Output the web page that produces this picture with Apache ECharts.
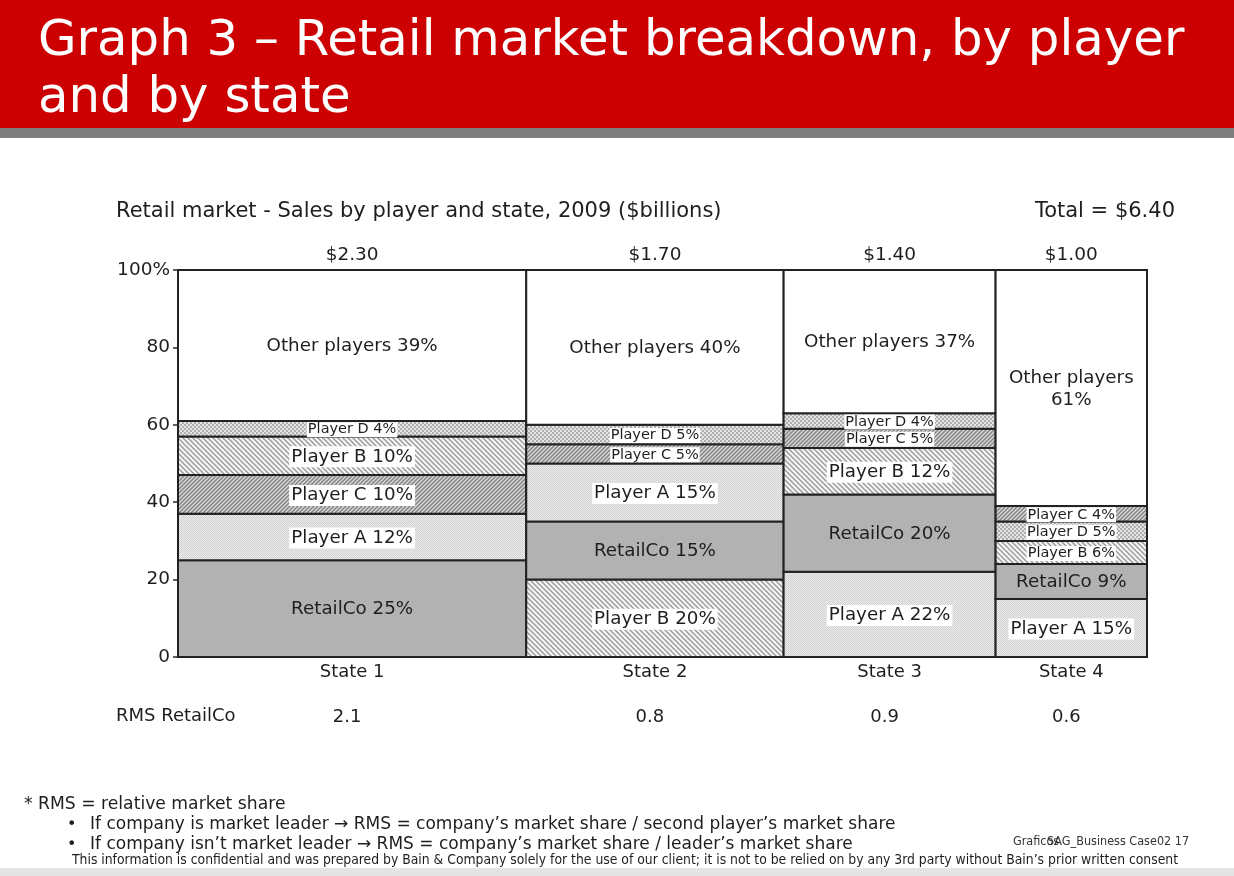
<!DOCTYPE html>
<html><head><meta charset="utf-8">
<script src="https://cdn.jsdelivr.net/npm/echarts@6/dist/echarts.min.js"></script>
<style>html,body{margin:0;padding:0;background:#fff}#c{width:1234px;height:876px}</style>
</head><body><div id="c"></div>
<script>
// ---------------- data ----------------
const states = ['State 1', 'State 2', 'State 3', 'State 4'];
const stateTotals = [2.30, 1.70, 1.40, 1.00];          // $ billions (column widths)
const rmsRetailCo = [2.1, 0.8, 0.9, 0.6];
const players = ['RetailCo', 'Player A', 'Player B', 'Player C', 'Player D', 'Other players'];
const retailCo = [25, 15, 20, 9];
const playerA = [12, 15, 22, 15];
const playerB = [10, 20, 12, 6];
const playerC = [10, 5, 5, 4];
const playerD = [4, 5, 4, 5];
const otherPlayers = [39, 40, 37, 61];
const stackOrder = [
  ['RetailCo', 'Player A', 'Player C', 'Player B', 'Player D', 'Other players'],
  ['Player B', 'RetailCo', 'Player A', 'Player C', 'Player D', 'Other players'],
  ['Player A', 'RetailCo', 'Player B', 'Player C', 'Player D', 'Other players'],
  ['Player A', 'RetailCo', 'Player B', 'Player D', 'Player C', 'Other players']
];
const yTickLabels = { 0: '0', 20: '20', 40: '40', 60: '60', 80: '80', 100: '100%' };

// ---------------- build ----------------
const shares = {
  'RetailCo': retailCo, 'Player A': playerA, 'Player B': playerB,
  'Player C': playerC, 'Player D': playerD, 'Other players': otherPlayers
};
const grandTotal = stateTotals.reduce((a, b) => a + b, 0);

function makePattern(size, bg, draw) {
  const c = document.createElement('canvas');
  c.width = c.height = size;
  const g = c.getContext('2d');
  g.fillStyle = bg; g.fillRect(0, 0, size, size);
  draw(g, size);
  return { image: c, repeat: 'repeat' };
}
function backHatch(s, bg, col, lw) {
  return makePattern(s, bg, (g, n) => {
    g.strokeStyle = col; g.lineWidth = lw; g.beginPath();
    g.moveTo(-1, -1); g.lineTo(n + 1, n + 1);
    g.moveTo(-2, n - 2); g.lineTo(2, n + 2);
    g.moveTo(n - 2, -2); g.lineTo(n + 2, 2);
    g.stroke();
  });
}
function fwdHatch(s, bg, col, lw) {
  return makePattern(s, bg, (g, n) => {
    g.strokeStyle = col; g.lineWidth = lw; g.beginPath();
    g.moveTo(-1, n + 1); g.lineTo(n + 1, -1);
    g.moveTo(-2, 2); g.lineTo(2, -2);
    g.moveTo(n - 2, n + 2); g.lineTo(n + 2, n - 2);
    g.stroke();
  });
}
const fills = {
  'RetailCo': '#b2b2b2',
  'Player A': makePattern(2, '#ebebeb', (g) => { g.fillStyle = '#d2d2d2'; g.fillRect(0, 0, 1, 1); g.fillRect(1, 1, 1, 1); }),
  'Player B': backHatch(5, '#f6f6f6', '#9c9c9c', 1.5),
  'Player C': fwdHatch(4, '#d8d8d8', '#858585', 1.5),
  'Player D': makePattern(4, '#e4e4e4', (g) => { g.fillStyle = '#b0b0b0'; g.fillRect(0, 0, 2, 2); g.fillRect(2, 2, 2, 2); }),
  'Other players': '#ffffff'
};

const segData = [];
const colData = [];
let xAcc = 0;
states.forEach((st, i) => {
  const x0 = xAcc, x1 = xAcc + stateTotals[i];
  let yAcc = 0;
  stackOrder[i].forEach((p) => {
    const v = shares[p][i];
    segData.push([x0, x1, yAcc, yAcc + v, players.indexOf(p), v, i]);
    yAcc += v;
  });
  colData.push([(x0 + x1) / 2, i, x0, x1]);
  xAcc = x1;
});

const FONT = '"DejaVu Sans", Verdana, sans-serif';
const COND = '"DejaVu Sans Condensed", "DejaVu Sans", sans-serif';
const TXT = '#1e1e1e';

const chart = echarts.init(document.getElementById('c'), null, { renderer: 'canvas' });
chart.setOption({
  animation: false,
  backgroundColor: '#ffffff',
  grid: { left: 178, right: 87, top: 270, bottom: 219, containLabel: false },
  xAxis: { type: 'value', min: 0, max: grandTotal, show: false },
  yAxis: {
    type: 'value', min: 0, max: 100, interval: 20,
    axisLine: { show: true, lineStyle: { color: '#2a2a2a', width: 1.8 } },
    axisTick: { show: true, length: 5, lineStyle: { color: '#2a2a2a', width: 1.5 } },
    splitLine: { show: false },
    axisLabel: { formatter: (v) => yTickLabels[v], fontFamily: FONT, fontSize: 18.5, color: TXT, margin: 8 }
  },
  series: [
    {
      type: 'custom', name: 'segments', data: segData, z: 2,
      encode: { x: [0, 1], y: [2, 3] },
      renderItem: (params, api) => {
        const p0 = api.coord([api.value(0), api.value(2)]);
        const p1 = api.coord([api.value(1), api.value(3)]);
        const name = players[api.value(4)];
        return {
          type: 'rect',
          shape: { x: p0[0], y: p1[1], width: p1[0] - p0[0], height: p0[1] - p1[1] },
          style: { fill: fills[name], stroke: '#222222', lineWidth: 2 }
        };
      }
    },
    {
      type: 'custom', name: 'labels', data: segData, z: 5,
      encode: { x: [0, 1], y: [2, 3] },
      renderItem: (params, api) => {
        const x0 = api.value(0), x1 = api.value(1), y0 = api.value(2), y1 = api.value(3);
        const name = players[api.value(4)];
        const v = api.value(5);
        const c = api.coord([(x0 + x1) / 2, (y0 + y1) / 2]);
        const colW = api.coord([x1, 0])[0] - api.coord([x0, 0])[0];
        const small = v <= 6;
        let text = name + ' ' + v + '%';
        if (name === 'Other players' && colW < 200) text = name + '\n' + v + '%';
        const style = {
          text: text, x: c[0], y: c[1] + 1, fill: TXT,
          font: (small ? 14.5 : 18.3) + 'px ' + FONT,
          align: 'center', verticalAlign: 'middle', lineHeight: 22
        };
        if (name !== 'RetailCo' && name !== 'Other players') {
          style.backgroundColor = '#ffffff';
          style.padding = small ? [0, 1] : [0, 2];
          style.lineHeight = small ? 15 : 21;
        }
        return { type: 'text', style: style };
      }
    },
    {
      type: 'custom', name: 'columns', data: colData, z: 6,
      encode: { x: 0, y: 1 },
      renderItem: (params, api) => {
        const i = api.value(1);
        const top = api.coord([api.value(0), 100]);
        const bot = api.coord([api.value(0), 0]);
        return {
          type: 'group', children: [
            { type: 'text', style: { text: '$' + stateTotals[i].toFixed(2), x: top[0], y: top[1] - 15, fill: TXT, font: '18.5px ' + FONT, align: 'center', verticalAlign: 'middle' } },
            { type: 'text', style: { text: states[i], x: bot[0], y: bot[1] + 15, fill: TXT, font: '18px ' + FONT, align: 'center', verticalAlign: 'middle' } },
            { type: 'text', style: { text: rmsRetailCo[i].toFixed(1), x: bot[0] - 5, y: bot[1] + 60, fill: TXT, font: '18px ' + FONT, align: 'center', verticalAlign: 'middle' } }
          ]
        };
      }
    }
  ],
  graphic: [
    { type: 'rect', shape: { x: 0, y: 0, width: 1234, height: 128 }, style: { fill: '#cc0000' }, z: 0 },
    { type: 'rect', shape: { x: 0, y: 128, width: 1234, height: 10 }, style: { fill: '#7f7f7f' }, z: 0 },
    { type: 'rect', shape: { x: 0, y: 868, width: 1234, height: 8 }, style: { fill: '#e4e4e4' }, z: 0 },
    { type: 'text', x: 38, y: 42, style: { text: 'Graph 3 \u2013 Retail market breakdown, by player', fill: '#ffffff', font: '49.8px ' + FONT, verticalAlign: 'middle' } },
    { type: 'text', x: 38, y: 99, style: { text: 'and by state', fill: '#ffffff', font: '49.8px ' + FONT, verticalAlign: 'middle' } },
    { type: 'text', x: 116, y: 212, style: { text: 'Retail market - Sales by player and state, 2009 ($billions)', fill: TXT, font: '21px ' + FONT, verticalAlign: 'middle' } },
    { type: 'text', x: 1175, y: 212, style: { text: 'Total = $' + grandTotal.toFixed(2), fill: TXT, font: '21px ' + FONT, align: 'right', verticalAlign: 'middle' } },
    { type: 'text', x: 116, y: 716, style: { text: 'RMS RetailCo', fill: TXT, font: '18px ' + FONT, verticalAlign: 'middle' } },
    { type: 'text', x: 24, y: 805, style: { text: '* RMS = relative market share', fill: TXT, font: '17.2px ' + FONT, verticalAlign: 'middle' } },
    { type: 'text', x: 67, y: 825, style: { text: '\u2022', fill: TXT, font: '16px ' + FONT, verticalAlign: 'middle' } },
    { type: 'text', x: 90, y: 825, style: { text: 'If company is market leader \u2192 RMS = company\u2019s market share / second player\u2019s market share', fill: TXT, font: '17px ' + FONT, verticalAlign: 'middle' } },
    { type: 'text', x: 67, y: 845, style: { text: '\u2022', fill: TXT, font: '16px ' + FONT, verticalAlign: 'middle' } },
    { type: 'text', x: 90, y: 845, style: { text: 'If company isn\u2019t market leader \u2192 RMS = company\u2019s market share / leader\u2019s market share', fill: TXT, font: '17px ' + FONT, verticalAlign: 'middle' } },
    { type: 'text', x: 72, y: 860, style: { text: 'This information is confidential and was prepared by Bain & Company solely for the use of our client; it is not to be relied on by any 3rd party without Bain\u2019s prior written consent', fill: TXT, font: '13.8px ' + COND, verticalAlign: 'middle' } },
    { type: 'text', x: 1013, y: 842, style: { text: 'Graficos', fill: '#333', font: '12.5px ' + COND, verticalAlign: 'middle' } },
    { type: 'text', x: 1047, y: 842, style: { text: 'SAG_Business Case02 17', fill: '#333', font: '12.5px ' + COND, verticalAlign: 'middle' } }
  ]
});
</script>
</body></html>
